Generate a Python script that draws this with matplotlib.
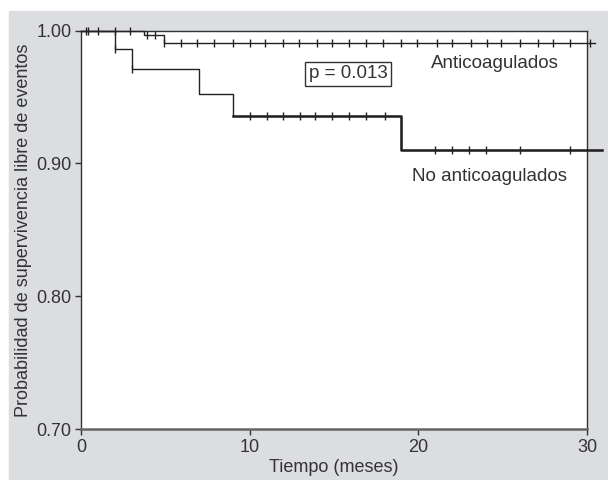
import numpy as np
import matplotlib
matplotlib.use("Agg")
import matplotlib.pyplot as plt
from matplotlib.patches import Rectangle

plt.rcParams['font.family'] = ['Liberation Sans', 'DejaVu Sans']

# Kaplan-Meier steps (months, survival)
no_t = [0, 2, 3, 7, 9, 19, 30.9]
no_s = [1.0, 0.986, 0.971, 0.952, 0.936, 0.910, 0.910]
no_cens = [2, 3, 10, 11, 12, 13, 13.9, 14.9, 15.9, 16.9, 18, 21, 22, 23, 24, 26, 29]

anti_t = [0, 3.75, 4.9, 30.45]
anti_s = [1.0, 0.997, 0.991, 0.991]
anti_cens = [0.3, 0.42, 1.0, 2.0, 2.9, 3.9, 4.4, 4.9, 5.9, 6.9, 7.9, 9.0, 10.0,
             10.9, 11.95, 12.9, 14.0, 14.9, 15.9, 16.9, 17.9, 19.0, 19.9, 21.1,
             22.0, 23.1, 24.1, 24.9, 26.0, 27.1, 28.0, 29.0, 30.2]

p_text = "p = 0.013"


def surv_at(times, surv, pts):
    idx = np.searchsorted(times, pts, side='right') - 1
    return np.array(surv)[idx]


fig = plt.figure(figsize=(6.08, 4.8), dpi=100)
bg = Rectangle((9 / 608, 0), 1, (480 - 11) / 480, transform=fig.transFigure,
               color='#dcdde0', zorder=-10)
fig.patches.append(bg)
ax = fig.add_axes([81 / 608, 51 / 480, 506 / 608, 398.3 / 480])
ax.set_zorder(1)
ax.set_facecolor('white')

lc = '#222222'
ax.step(no_t, no_s, where='post', color=lc, lw=1.0, clip_on=False, zorder=3)
# later part of the curve looks heavier in the original
t2 = [9, 19, 30.9]
s2 = [0.936, 0.910, 0.910]
ax.step(t2, s2, where='post', color=lc, lw=1.8, clip_on=False, zorder=3)
ax.plot(no_cens, surv_at(no_t, no_s, no_cens), ls='none', marker='|',
        ms=6, mew=1.0, color=lc, clip_on=False, zorder=4)

ax.step(anti_t, anti_s, where='post', color=lc, lw=1.0, clip_on=False, zorder=3)
ax.plot(anti_cens, surv_at(anti_t, anti_s, anti_cens), ls='none', marker='|',
        ms=6, mew=1.0, color=lc, clip_on=False, zorder=4)

ax.set_xlim(0, 30)
ax.set_ylim(0.70, 1.00)
ax.set_xticks([0, 10, 20, 30])
ax.set_yticks([0.70, 0.80, 0.90, 1.00])
ax.set_yticklabels(['0.70', '0.80', '0.90', '1.00'])
ax.tick_params(direction='out', length=4, width=1, colors='#333333',
               labelsize=13, pad=3)

for side in ['top', 'right', 'left']:
    ax.spines[side].set_color('#333333')
    ax.spines[side].set_linewidth(1.0)
ax.spines['bottom'].set_color('#666666')
ax.spines['bottom'].set_linewidth(1.8)

ax.set_xlabel('Tiempo (meses)', fontsize=13, color='#333333', labelpad=2)
ax.set_ylabel('Probabilidad de supervivencia libre de eventos', fontsize=13,
              color='#333333', labelpad=3)

ax.text(15.85, 0.9674, p_text, ha='center', va='center', fontsize=13.5,
        color='#333333',
        bbox=dict(boxstyle='square,pad=0.2', fc='white', ec='#333333', lw=1.0))
ax.text(24.55, 0.9716, 'Anticoagulados', ha='center', va='baseline',
        fontsize=13.5, color='#333333')
ax.text(24.2, 0.8868, 'No anticoagulados', ha='center', va='baseline',
        fontsize=13.5, color='#333333')

fig.savefig('out.png', dpi=100)
